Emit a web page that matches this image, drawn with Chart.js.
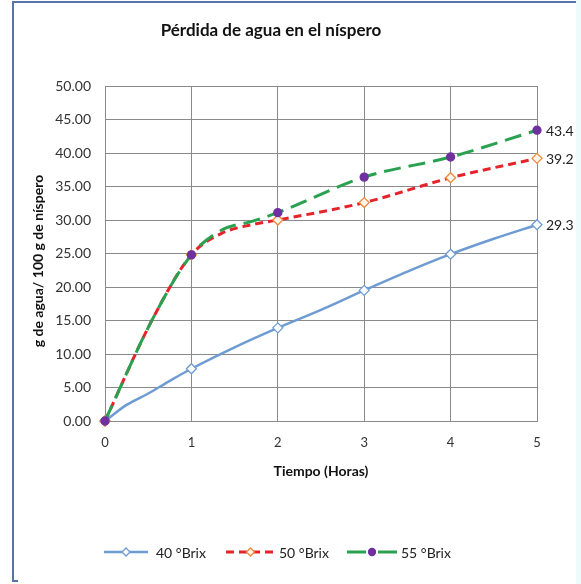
<!DOCTYPE html>
<html>
<head>
<meta charset="utf-8">
<script src="https://cdn.jsdelivr.net/npm/chart.js@4.4.1/dist/chart.umd.min.js"></script>
<style>
  html, body { margin: 0; padding: 0; background: #ffffff; }
  #wrap { position: relative; width: 581px; height: 584px; }
  canvas { display: block; }
</style>
</head>
<body>
<div id="wrap"><canvas id="c" width="581" height="584"></canvas></div>
<script>
// ---- Data ----
const chartTitle = 'Pérdida de agua en el níspero';
const xTitle = 'Tiempo (Horas)';
const yTitle = 'g de agua/ 100 g de níspero';
const seriesNames = ['40 °Brix', '50 °Brix', '55 °Brix'];

// x = hours, y = g water / 100 g (markers only shown at whole hours)
const hours40 = [0, 0.25, 0.5, 0.75, 1, 1.5, 2, 2.5, 3, 3.5, 4, 4.5, 5];
const brix40  = [0, 2.4, 4.1, 6.0, 7.8, 11.0, 13.9, 16.6, 19.5, 22.3, 24.9, 27.2, 29.3];

const hours50 = [0, 0.55, 1, 1.35, 1.7, 2, 3, 4, 5];
const brix50  = [0, 15.2, 24.8, 28.0, 29.3, 30.0, 32.6, 36.3, 39.2];

const hours55 = [0, 0.55, 1, 1.35, 1.7, 2, 3, 4, 5];
const brix55  = [0, 15.2, 24.8, 28.5, 29.8, 31.1, 36.4, 39.4, 43.4];

const yTicks = [0, 5, 10, 15, 20, 25, 30, 35, 40, 45, 50];
const xTicks = [0, 1, 2, 3, 4, 5];

const FONT = 'Lato, "Open Sans", sans-serif';
const colBlue = '#6E9BD2';
const colRed = '#E4232B';
const colGreen = '#2AA150';
const colOrange = '#F08A3C';
const colPurple = '#7030A0';

function pts(xs, ys) { return xs.map((x, i) => ({ x: x, y: ys[i] })); }
function markerR(r) { return ctx => (ctx.raw && Number.isInteger(ctx.raw.x)) ? r : 0; }

const styles = [
  { color: colBlue, dash: [], width: 2.5, pStyle: 'rectRot', pBorder: colBlue, pFill: '#ffffff', r: 5 },
  { color: colRed, dash: [8, 5], width: 3, pStyle: 'rectRot', pBorder: colOrange, pFill: '#fff4ea', r: 5 },
  { color: colGreen, dash: [17, 8], width: 3, pStyle: 'circle', pBorder: colPurple, pFill: colPurple, r: 4 }
];

// Frame, titles, legend, end labels
const decorPlugin = {
  id: 'decor',
  beforeDraw(chart) {
    const c = chart.ctx;
    c.save();
    c.fillStyle = '#ffffff';
    c.fillRect(0, 0, chart.width, chart.height);
    c.fillStyle = '#eefbfb';
    c.fillRect(576, 0, 5, chart.height);
    c.strokeStyle = '#5873a8';
    c.lineWidth = 2;
    c.beginPath();
    c.moveTo(13, 582);
    c.lineTo(13, 2);
    c.lineTo(576, 2);
    c.stroke();
    c.beginPath();
    c.moveTo(13, 581);
    c.lineTo(18, 581);
    c.stroke();
    c.fillStyle = '#111111';
    c.font = 'bold 17px ' + FONT;
    c.textAlign = 'center';
    c.textBaseline = 'middle';
    c.fillText(chartTitle, 271, 31);
    // y axis title
    c.translate(38, 261);
    c.rotate(-Math.PI / 2);
    c.font = 'bold 14px ' + FONT;
    c.fillText(yTitle, 0, 0);
    c.restore();
  },
  afterDatasetsDraw(chart) {
    const c = chart.ctx;
    c.save();
    c.font = '14px ' + FONT;
    c.fillStyle = '#222222';
    c.textAlign = 'left';
    c.textBaseline = 'middle';
    chart.data.datasets.forEach((ds, i) => {
      const meta = chart.getDatasetMeta(i);
      const last = meta.data[meta.data.length - 1];
      const v = ds.data[ds.data.length - 1].y;
      c.fillText(v.toFixed(1), last.x + 9, last.y + 1);
    });
    c.restore();
  },
  afterDraw(chart) {
    const c = chart.ctx;
    const items = [
      { x0: 104, x1: 148, tx: 156 },
      { x0: 226, x1: 275, tx: 279 },
      { x0: 347, x1: 397, tx: 401 }
    ];
    const y = 552;
    c.save();
    items.forEach((it, i) => {
      const s = styles[i];
      c.strokeStyle = s.color;
      c.lineWidth = s.width;
      c.setLineDash(i === 2 ? [] : s.dash);
      if (i === 2) {
        c.beginPath(); c.moveTo(it.x0, y); c.lineTo(it.x0 + 19, y); c.stroke();
        c.beginPath(); c.moveTo(it.x1 - 19, y); c.lineTo(it.x1, y); c.stroke();
      } else {
        c.beginPath(); c.moveTo(it.x0, y); c.lineTo(it.x1, y); c.stroke();
      }
      c.setLineDash([]);
      const mx = (it.x0 + it.x1) / 2;
      c.lineWidth = 1.3;
      c.strokeStyle = s.pBorder;
      c.fillStyle = s.pFill;
      c.beginPath();
      if (s.pStyle === 'circle') {
        c.arc(mx, y, 3.5, 0, Math.PI * 2);
      } else {
        const r = 4;
        c.moveTo(mx, y - r); c.lineTo(mx + r, y); c.lineTo(mx, y + r); c.lineTo(mx - r, y); c.closePath();
      }
      c.fill(); c.stroke();
      c.fillStyle = '#222222';
      c.font = '14px ' + FONT;
      c.textAlign = 'left';
      c.textBaseline = 'middle';
      c.fillText(seriesNames[i], it.tx, y + 1);
    });
    c.restore();
  }
};

const datasets = [
  { label: seriesNames[0], data: pts(hours40, brix40), order: 3 },
  { label: seriesNames[1], data: pts(hours50, brix50), order: 2 },
  { label: seriesNames[2], data: pts(hours55, brix55), order: 1 }
].map((d, i) => {
  const s = styles[i];
  return Object.assign(d, {
    borderColor: s.color,
    backgroundColor: s.pFill,
    borderWidth: s.width,
    borderDash: s.dash,
    cubicInterpolationMode: 'monotone',
    pointStyle: s.pStyle,
    pointRadius: markerR(s.r),
    pointBorderColor: s.pBorder,
    pointBackgroundColor: s.pFill,
    pointBorderWidth: 1.3,
    pointHoverRadius: 0,
    fill: false,
    clip: false
  });
});

new Chart(document.getElementById('c'), {
  type: 'line',
  data: { datasets: datasets },
  plugins: [decorPlugin],
  options: {
    responsive: false,
    animation: false,
    devicePixelRatio: 1,
    layout: { padding: { left: 24, top: 86, right: 44, bottom: 100 } },
    plugins: {
      legend: { display: false },
      title: { display: false },
      tooltip: { enabled: false }
    },
    scales: {
      x: {
        type: 'linear',
        min: 0, max: 5,
        afterBuildTicks: sc => { sc.ticks = xTicks.map(v => ({ value: v })); },
        afterFit: sc => { sc.height = 63; },
        grid: { color: '#8a8a8a', lineWidth: 1, drawTicks: false },
        border: { color: '#8a8a8a', width: 1 },
        ticks: { padding: 14, color: '#333333', font: { family: FONT, size: 13 }, callback: v => String(v) },
        title: { display: true, text: xTitle, color: '#111111', font: { family: FONT, size: 14, weight: 'bold' } }
      },
      y: {
        type: 'linear',
        min: 0, max: 50,
        afterBuildTicks: sc => { sc.ticks = yTicks.map(v => ({ value: v })); },
        afterFit: sc => { sc.width = 81; },
        grid: { color: '#8a8a8a', lineWidth: 1, drawTicks: false },
        border: { color: '#8a8a8a', width: 1 },
        ticks: { padding: 14, color: '#333333', font: { family: FONT, size: 14 }, callback: v => Number(v).toFixed(2) },
        title: { display: false, text: yTitle }
      }
    }
  }
});
</script>
</body>
</html>
